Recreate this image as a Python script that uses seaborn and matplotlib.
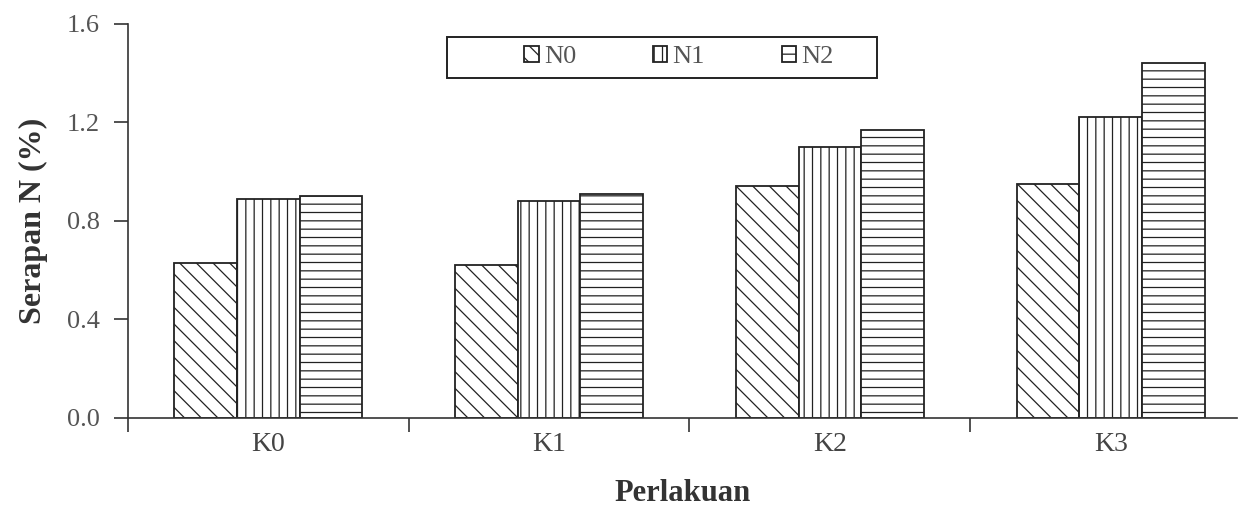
import matplotlib
matplotlib.use("Agg")
import matplotlib.pyplot as plt
import seaborn as sns
import pandas as pd
from matplotlib.ticker import FixedLocator
from matplotlib.patches import Rectangle

# data
perlakuan = ["K0", "K1", "K2", "K3"]
n0 = [0.63, 0.62, 0.94, 0.95]
n1 = [0.89, 0.88, 1.10, 1.22]
n2 = [0.90, 0.91, 1.17, 1.44]
series = ["N0", "N1", "N2"]

df = pd.DataFrame({
    "Perlakuan": perlakuan * 3,
    "Serapan": n0 + n1 + n2,
    "Dosis": [s for s in series for _ in perlakuan],
})

sns.set_style("white")
plt.rcParams["font.family"] = ["Liberation Serif", "DejaVu Serif"]
plt.rcParams["hatch.linewidth"] = 0.9
plt.rcParams["hatch.color"] = "#333333"

fig = plt.figure(figsize=(12.42, 5.09), dpi=100)
ax = fig.add_axes([0.103, 0.179, 0.893, 0.774])

sns.barplot(data=df, x="Perlakuan", y="Serapan", hue="Dosis", width=0.67,
            palette=["white"] * 3, edgecolor="#222222",
            linewidth=1.3, ax=ax, legend=True)

hatches = ["\\\\", "||", "--"]
for cont, h in zip(ax.containers, hatches):
    for bar in cont:
        bar.set_hatch(h)
        bar.set_edgecolor("#222222")

# axes styling
ax.set_ylim(0, 1.6)
ax.set_xlim(-0.5, 3.45)
ax.set_yticks([0.0, 0.4, 0.8, 1.2, 1.6])
ax.set_yticklabels(["0.0", "0.4", "0.8", "1.2", "1.6"], color="#555555", fontsize=19)
ax.tick_params(axis="x", which="major", length=0, labelsize=20, labelcolor="#444444", pad=10)
ax.xaxis.set_minor_locator(FixedLocator([-0.5, 0.5, 1.5, 2.5]))
ax.tick_params(axis="x", which="minor", length=10, width=1.2, direction="out", color="#333333", bottom=True)
ax.tick_params(axis="y", length=10, width=1.2, direction="out", color="#333333", left=True, pad=10)

for s in ["top", "right"]:
    ax.spines[s].set_visible(False)
for s in ["left", "bottom"]:
    ax.spines[s].set_color("#333333")
    ax.spines[s].set_linewidth(1.2)

ax.set_ylabel("Serapan N (%)", fontsize=23, fontweight="bold", color="#333333", labelpad=14)
ax.set_xlabel("Perlakuan", fontsize=22, fontweight="bold", color="#333333", labelpad=16)

# legend (frameless, with a box drawn around it)
handles, labels = ax.get_legend_handles_labels()
for hd, h in zip(handles, hatches):
    hd.set_hatch(h)
    hd.set_edgecolor("#222222")
leg = ax.legend(handles, labels, ncol=3, loc="center left",
                bbox_to_anchor=(0.403, 0.888), bbox_transform=fig.transFigure,
                frameon=False, fontsize=19,
                handlelength=0.55, handleheight=0.55, handletextpad=0.2, columnspacing=2.9,
                labelcolor="#555555")
fig.patches.append(Rectangle((447 / 1242, (509 - 78) / 509), 430 / 1242, 41 / 509,
                             transform=fig.transFigure, fill=False,
                             edgecolor="#222222", linewidth=1.4))

fig.savefig("out.png", dpi=100)
